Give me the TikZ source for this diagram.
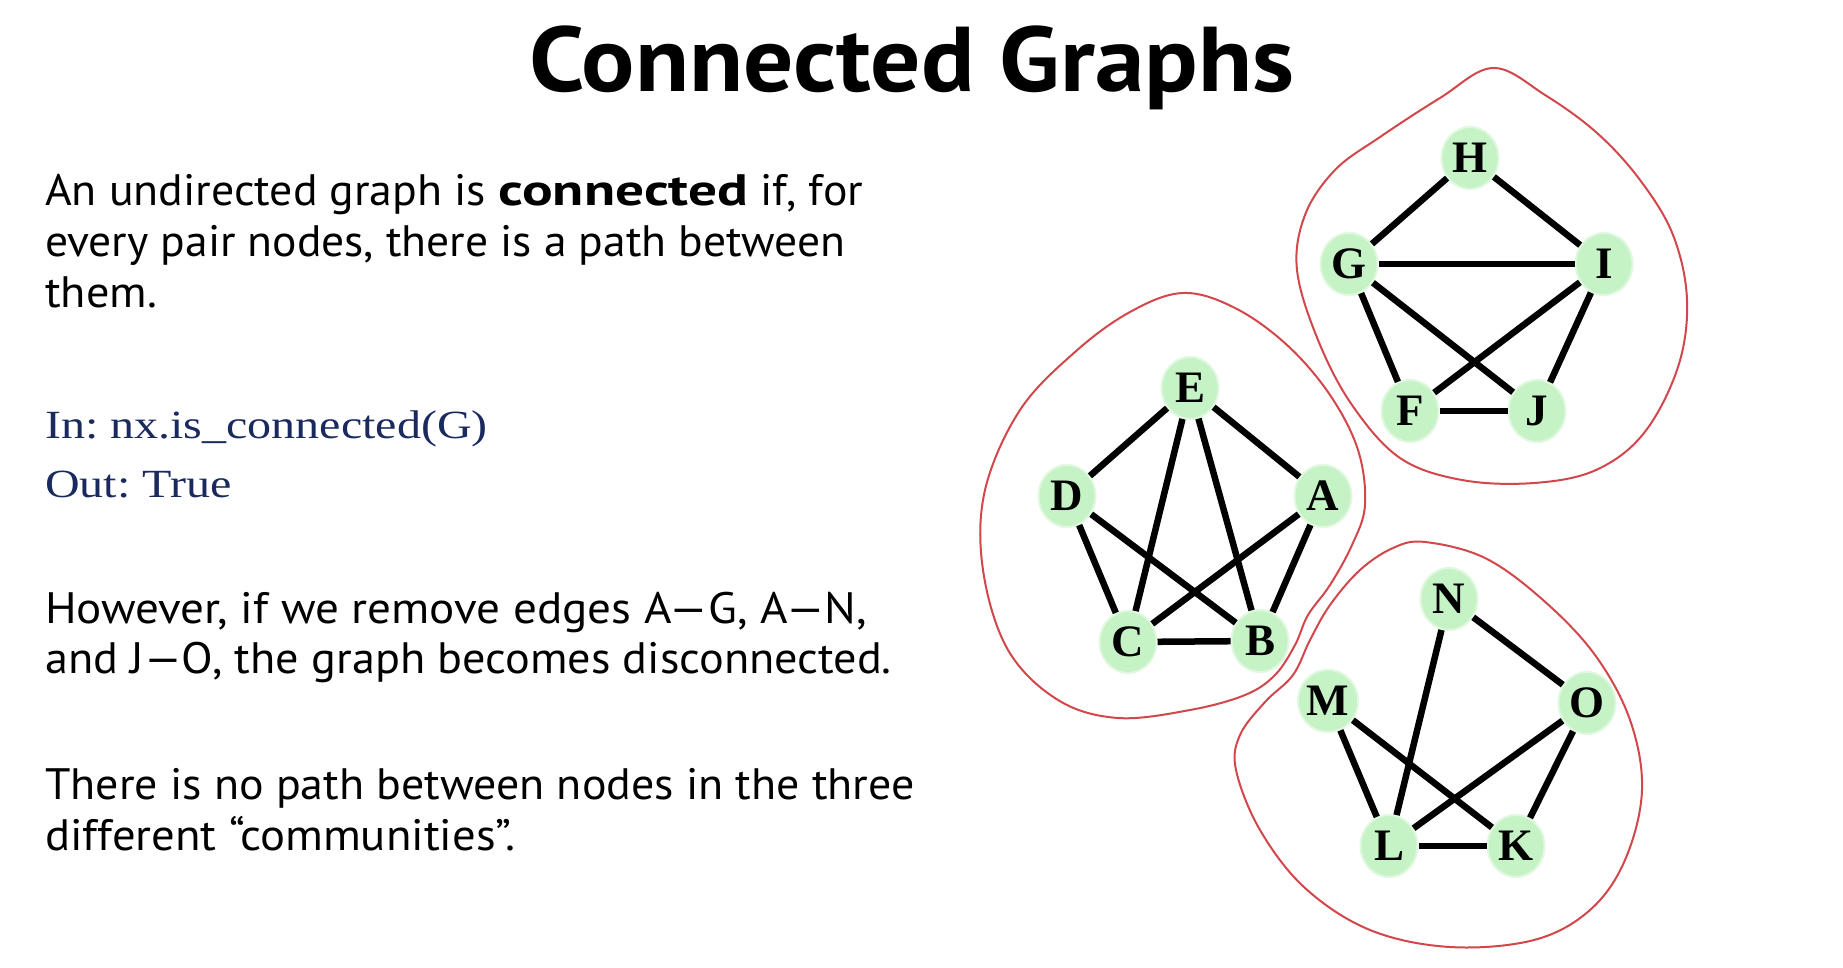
\documentclass[tikz,border=0pt]{standalone}
\usepackage{fontspec}
\setmainfont{PT Sans}
\newfontfamily\codefont{Liberation Serif}
\newfontfamily\labelfont{Liberation Serif}
\usetikzlibrary{shapes.geometric}
\definecolor{nodegreen}{HTML}{C6F3C6}
\definecolor{blobred}{HTML}{D2474B}
\definecolor{codeblue}{HTML}{1B2A5E}
% horizontal stretch of a line of text
\newcommand{\stretchx}[2]{\scalebox{#1}[1]{#2}}
\frenchspacing

\begin{document}
\begin{tikzpicture}[x=1pt,y=-1pt,
  vtx/.style={ellipse, fill=nodegreen, draw=nodegreen!55, line width=2pt,
    minimum width=57pt, minimum height=62pt, inner sep=0pt,
    font=\labelfont\bfseries\fontsize{45}{45}\selectfont},
  edge/.style={line width=6.5pt, black},
  blob/.style={draw=blobred, line width=2pt},
  txt/.style={anchor=base west, inner sep=0pt, font=\fontsize{44}{50}\selectfont},
  code/.style={anchor=base west, inner sep=0pt, text=codeblue,
    font=\codefont\fontsize{40}{48}\selectfont}]
\useasboundingbox (0,0) rectangle (1843,968);
\fill[white] (0,0) rectangle (1843,968);

% title
\node[anchor=base, inner sep=0pt, font=\bfseries\fontsize{92}{92}\selectfont] (title) at (912,92)
  {\stretchx{1.08}{Connected Graphs}};

% explanatory text
\node[txt] (p1a) at (45,206) {\stretchx{1.04}{An undirected graph is \stretchx{1.25}{\textbf{connected}} if, for}};
\node[txt] (p1b) at (45,257) {\stretchx{1.035}{every pair nodes, there is a path between}};
\node[txt] (p1c) at (45,307) {\stretchx{1.05}{them.}};
\node[code] (in)  at (45,438) {\stretchx{1.2}{In: nx.is\_connected(G)}};
\node[code] (out) at (45,497) {\stretchx{1.2}{Out: True}};
\node[txt] (p2a) at (45,623) {\stretchx{1.07}{However, if we remove edges A---G, A---N,}};
\node[txt] (p2b) at (45,673) {\stretchx{1.05}{and J---O, the graph becomes disconnected.}};
\node[txt] (p3a) at (45,799) {\stretchx{1.043}{There is no path between nodes in the three}};
\node[txt] (p3b) at (45,850) {\stretchx{1.06}{different ``communities''.}};

% community outlines
\draw[blob] plot[smooth cycle, tension=0.6] coordinates {
  (1493,68) (1545,95) (1597,133) (1640,180) (1673,235) (1687,300) (1678,367)
  (1644,433) (1596,470) (1534,483) (1462,480) (1400,458) (1352,405) (1318,340)
  (1297,270) (1305,215) (1335,170) (1380,137) (1440,98)};
\draw[blob] plot[smooth cycle, tension=0.6] coordinates {
  (1183,293) (1235,308) (1287,345) (1330,395) (1358,450) (1365,505) (1352,545)
  (1330,585) (1308,615) (1295,645) (1275,675) (1245,695) (1190,710) (1118,718)
  (1058,700) (1008,650) (983,570) (985,490) (1020,410) (1075,352) (1130,312)};
\draw[blob] plot[smooth cycle, tension=0.6] coordinates {
  (1425,542) (1485,558) (1543,600) (1595,655) (1630,720) (1642,790) (1625,860)
  (1590,910) (1534,940) (1450,947) (1370,930) (1305,888) (1260,830) (1236,770)
  (1240,735) (1265,702) (1293,675) (1310,640) (1330,605) (1360,570) (1393,548)};

% vertices
\node[vtx] (H) at (1470,158) {H};
\node[vtx] (G) at (1349,264) {G};
\node[vtx] (I) at (1604,264) {I};
\node[vtx] (F) at (1410,411) {F};
\node[vtx] (J) at (1537,411) {J};

\node[vtx] (E) at (1190,388) {E};
\node[vtx] (D) at (1067,496) {D};
\node[vtx] (A) at (1323,496) {A};
\node[vtx] (C) at (1128,642) {C};
\node[vtx] (B) at (1260,641) {B};

\node[vtx] (N) at (1449,599) {N};
\node[vtx] (M) at (1328,701) {M};
\node[vtx] (O) at (1587,703) {O};
\node[vtx] (L) at (1389,846) {L};
\node[vtx] (K) at (1516,846) {K};

% edges
\draw[edge] (H) -- (G);
\draw[edge] (H) -- (I);
\draw[edge] (G) -- (I);
\draw[edge] (G) -- (J);
\draw[edge] (G) -- (F);
\draw[edge] (I) -- (F);
\draw[edge] (I) -- (J);
\draw[edge] (F) -- (J);

\draw[edge] (E) -- (D);
\draw[edge] (E) -- (A);
\draw[edge] (E) -- (C);
\draw[edge] (E) -- (B);
\draw[edge] (D) -- (C);
\draw[edge] (D) -- (B);
\draw[edge] (A) -- (C);
\draw[edge] (A) -- (B);
\draw[edge] (C) -- (B);

\draw[edge] (N) -- (O);
\draw[edge] (N) -- (L);
\draw[edge] (M) -- (L);
\draw[edge] (M) -- (K);
\draw[edge] (O) -- (L);
\draw[edge] (O) -- (K);
\draw[edge] (L) -- (K);
\end{tikzpicture}
\end{document}
